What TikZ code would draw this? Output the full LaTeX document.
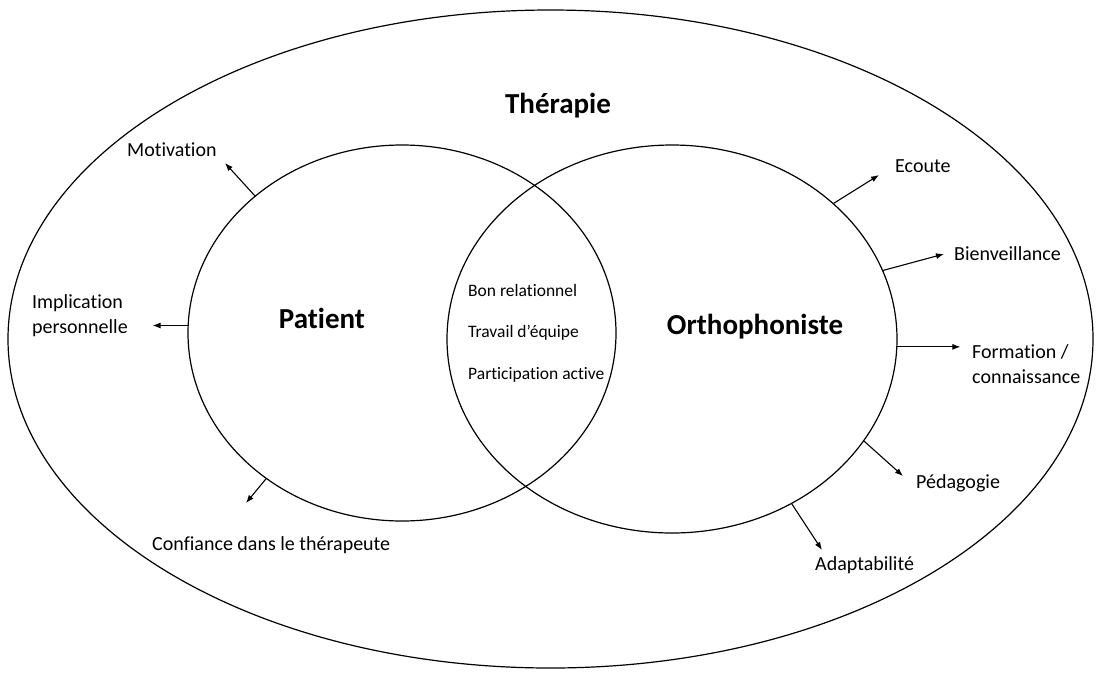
\documentclass[tikz,border=0pt]{standalone}
\usepackage{fontspec}
\setmainfont[Ligatures=NoCommon]{Carlito}
\usepackage{tikz}
\usetikzlibrary{arrows.meta,shapes.geometric}
\tikzset{
    zone/.style={ellipse, draw=black, line width=1.2pt, inner sep=0pt},
    heading/.style={font=\fontsize{29}{34}\selectfont\bfseries, inner sep=0pt},
    item/.style={font=\fontsize{20}{25}\selectfont, align=left, anchor=west, inner sep=0pt},
    shared/.style={font=\fontsize{17.5}{21}\selectfont, anchor=west, inner sep=0pt},
    arrow/.style={-{Latex[length=8pt,width=6pt]}, line width=1.1pt}
}

\begin{document}
\begin{tikzpicture}[x=1pt, y=-1pt]
  \useasboundingbox (0,0) rectangle (1097,673);

  % Ellipses
  \node[zone, minimum width=1085pt, minimum height=658pt] (therapy) at (550.5,339) {};
  \node[zone, minimum width=428pt, minimum height=376pt] (patient) at (402,333) {};
  \node[zone, minimum width=450pt, minimum height=388pt] (ortho) at (672,339) {};

  % Headings
  \node[heading] (therapy_lbl) at (558,106) {Thérapie};
  \node[heading] (patient_lbl) at (322,318) {Patient};
  \node[heading] (ortho_lbl) at (755,327) {Orthophoniste};

  % Shared qualities
  \node[shared] (relation) at (468,290) {Bon relationnel};
  \node[shared] (team) at (468,333) {Travail d’équipe};
  \node[shared] (active) at (468,375) {Participation active};

  % Arrow ends
  \coordinate (motiv_end) at (225,163);
  \coordinate (impl_end) at ([xshift=-35pt]patient.178);
  \coordinate (conf_end) at (246,503);
  \coordinate (ecoute_end) at (879,175);
  \coordinate (bienv_end) at (944,254);
  \coordinate (form_end) at ([xshift=63pt]ortho.-2.8);
  \coordinate (peda_end) at (903,476);
  \coordinate (adapt_end) at (822,550);

  % Patient side
  \node[item] (motiv) at (127,150) {Motivation};
  \node[item] (impl) at (32,316) {Implication\\personnelle};
  \node[item] (conf) at (152,545) {Confiance dans le thérapeute};

  % Orthophoniste side
  \node[item] (ecoute) at (895,166) {Ecoute};
  \node[item] (bienv) at (954,254) {Bienveillance};
  \node[item] (form) at (972,364) {Formation /\\connaissance};
  \node[item] (peda) at (916,483) {Pédagogie};
  \node[item] (adapt) at (815,565) {Adaptabilité};

  % Connecting arrows
  \draw[arrow] (patient.137) -- (motiv_end);
  \draw[arrow] (patient.178) -- (impl_end);
  \draw[arrow] (patient.227.6) -- (conf_end);
  \draw[arrow] (ortho.40.8) -- (ecoute_end);
  \draw[arrow] (ortho.18.7) -- (bienv_end);
  \draw[arrow] (ortho.-2.8) -- (form_end);
  \draw[arrow] (ortho.-28.2) -- (peda_end);
  \draw[arrow] (ortho.-54.1) -- (adapt_end);
\end{tikzpicture}
\end{document}
